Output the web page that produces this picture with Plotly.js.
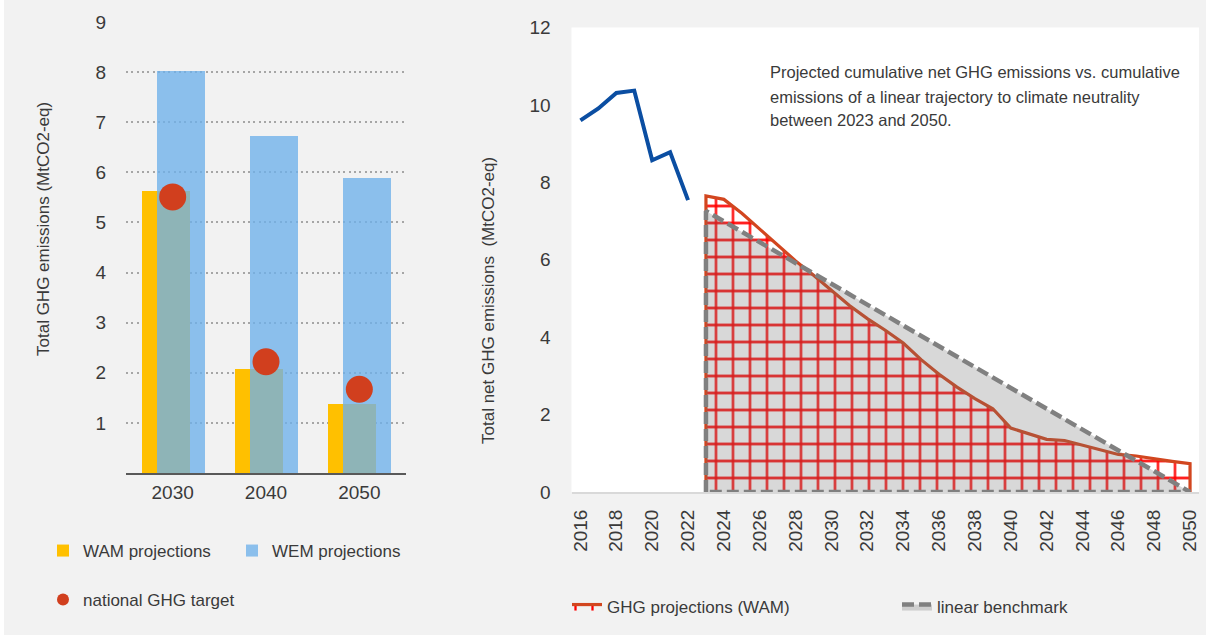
<!DOCTYPE html>
<html>
<head>
<meta charset="utf-8">
<script src="https://cdn.plot.ly/plotly-3.0.1.min.js"></script>
<style>
  html, body { margin: 0; padding: 0; background: #f2f2f2; }
  #chart { width: 1206px; height: 635px; }
</style>
</head>
<body>
<div id="chart"></div>
<script>
// ---- Left chart data ----
const barCategories = ['2030', '2040', '2050'];
const wamValues = [5.63, 2.07, 1.38];
const wemValues = [8.03, 6.72, 5.89];
const targetValues = [5.51, 2.22, 1.67];
const leftTicks = [1, 2, 3, 4, 5, 6, 7, 8, 9];

// ---- Right chart data ----
const histYears = [2016, 2017, 2018, 2019, 2020, 2021, 2022];
const histValues = [9.60, 9.91, 10.31, 10.37, 8.57, 8.78, 7.54];
const projYears = [2023, 2024, 2025, 2026, 2027, 2028, 2029, 2030, 2031, 2032, 2033, 2034, 2035, 2036,
                   2037, 2038, 2039, 2040, 2041, 2042, 2043, 2044, 2045, 2046, 2047, 2048, 2049, 2050];
const projValues = [7.65, 7.56, 7.20, 6.79, 6.38, 5.97, 5.60, 5.22, 4.82, 4.48, 4.18, 3.85, 3.42, 3.04,
                    2.71, 2.41, 2.15, 1.65, 1.50, 1.36, 1.33, 1.21, 1.08, 0.97, 0.93, 0.85, 0.79, 0.73];
const benchYears = [2023, 2050];
const benchValues = [7.26, 0];

// ---- Texts ----
const leftYTitle = 'Total GHG emissions (MtCO2-eq)';
const rightYTitle = 'Total net GHG emissions&nbsp; (MtCO2-eq)';
const noteLines = [
  'Projected cumulative net GHG emissions vs. cumulative',
  'emissions of a linear trajectory to climate neutrality',
  'between 2023 and 2050.'
];

const FONT = "'Liberation Sans', Arial, sans-serif";
const TXT = '#3a3a3a';
const W = 1206, H = 635;
const px = v => v / W;
const py = v => (H - v) / H;

// closed outlines built from the data arrays
const projX = [projYears[0]].concat(projYears, [projYears[projYears.length - 1]]);
const projY = [0].concat(projValues, [0]);
const benchX = [benchYears[0], benchYears[0], benchYears[1], benchYears[0]];
const benchY = [0, benchValues[0], benchValues[1], 0];

const traces = [
  { type: 'bar', name: 'WAM projections', x: barCategories, y: wamValues,
    xaxis: 'x', yaxis: 'y', offset: -0.333, width: 0.516,
    marker: { color: '#ffc000', line: { width: 0 } }, legend: 'legend', hoverinfo: 'skip' },
  { type: 'bar', name: 'WEM projections', x: barCategories, y: wemValues,
    xaxis: 'x', yaxis: 'y', offset: -0.172, width: 0.516,
    marker: { color: 'rgba(110,177,234,0.78)', line: { width: 0 } }, legend: 'legend', hoverinfo: 'skip' },
  { type: 'scatter', mode: 'markers', name: 'national GHG target', x: barCategories, y: targetValues,
    xaxis: 'x', yaxis: 'y', marker: { size: 27, color: '#d13f1e' }, legend: 'legend2', hoverinfo: 'skip' },

  { type: 'scatter', mode: 'lines', name: 'historical', x: histYears, y: histValues,
    xaxis: 'x2', yaxis: 'y2', line: { color: '#0b4ea2', width: 4 }, showlegend: false, hoverinfo: 'skip' },
  { type: 'scatter', mode: 'lines', name: 'GHG projections (WAM)', x: projX, y: projY,
    xaxis: 'x2', yaxis: 'y2', fill: 'toself', fillcolor: 'rgba(0,0,0,0)',
    fillpattern: { shape: '+', fgcolor: '#ff0000', fgopacity: 1, bgcolor: 'rgba(0,0,0,0)',
                   size: 17, solidity: 0.25, fillmode: 'overlay' },
    line: { color: '#d2461f', width: 3.2 }, legend: 'legend3', hoverinfo: 'skip' },
  { type: 'scatter', mode: 'lines', name: 'linear benchmark', x: benchX, y: benchY,
    xaxis: 'x2', yaxis: 'y2', fill: 'toself', fillcolor: 'rgba(112,112,112,0.27)',
    line: { color: '#808080', width: 4.5, dash: '12px,5px' }, legend: 'legend3', hoverinfo: 'skip' }
];

const legendBase = {
  orientation: 'h', xanchor: 'left', yanchor: 'middle', bgcolor: 'rgba(0,0,0,0)',
  font: { family: FONT, size: 17, color: TXT }, itemclick: false, itemdoubleclick: false
};

const annotations = [
  { xref: 'paper', yref: 'paper', x: px(43), y: py(229), xanchor: 'center', yanchor: 'middle',
    textangle: -90, showarrow: false, font: { family: FONT, size: 17, color: TXT }, text: leftYTitle },
  { xref: 'paper', yref: 'paper', x: px(488), y: py(301), xanchor: 'center', yanchor: 'middle',
    textangle: -90, showarrow: false, font: { family: FONT, size: 17, color: TXT }, text: rightYTitle }
];
const noteY = [72, 96.5, 120];
noteLines.forEach((t, i) => annotations.push({
  xref: 'paper', yref: 'paper', x: px(768), y: py(noteY[i]), xanchor: 'left', yanchor: 'middle',
  align: 'left', showarrow: false, font: { family: FONT, size: 16.5, color: TXT }, text: t
}));

const layout = {
  width: W, height: H,
  margin: { l: 0, r: 0, t: 0, b: 0, autoexpand: false },
  paper_bgcolor: '#f2f2f2',
  plot_bgcolor: 'rgba(0,0,0,0)',
  font: { family: FONT, size: 17, color: TXT },
  bargap: 0, barmode: 'overlay',
  showlegend: true,
  xaxis: {
    domain: [px(126), px(406)], anchor: 'y', type: 'category',
    showline: true, linecolor: '#595959', linewidth: 2,
    ticks: 'outside', ticklen: 1, tickcolor: 'rgba(0,0,0,0)',
    tickfont: { family: FONT, size: 19, color: TXT }, showgrid: false, fixedrange: true
  },
  yaxis: {
    domain: [py(473), py(22)], anchor: 'x', range: [0, 9],
    tickvals: leftTicks, ticktext: leftTicks.map(String),
    showgrid: true, gridcolor: '#a6a6a6', gridwidth: 2, griddash: '2px,3.3px',
    zeroline: false, showline: false,
    ticks: 'outside', ticklen: 15, tickcolor: 'rgba(0,0,0,0)',
    tickfont: { family: FONT, size: 19, color: TXT },
    fixedrange: true
  },
  xaxis2: {
    domain: [px(571.5), px(1199)], anchor: 'y2', range: [2015.5, 2050.5],
    tick0: 2016, dtick: 2, tickangle: -90,
    showline: true, linecolor: '#d9d9d9', linewidth: 2, showgrid: false, zeroline: false,
    ticks: 'outside', ticklen: 8, tickcolor: 'rgba(0,0,0,0)',
    tickfont: { family: FONT, size: 19, color: TXT }, fixedrange: true
  },
  yaxis2: {
    domain: [py(492), py(27.5)], anchor: 'x2', range: [0, 12], dtick: 2,
    showgrid: false, zeroline: false, showline: false,
    ticks: 'outside', ticklen: 16, tickcolor: 'rgba(0,0,0,0)',
    tickfont: { family: FONT, size: 19, color: TXT },
    fixedrange: true
  },
  legend: Object.assign({}, legendBase, { x: px(43), y: py(551), entrywidth: 144 }),
  legend2: Object.assign({}, legendBase, { x: px(43), y: py(600), itemsizing: 'constant' }),
  legend3: Object.assign({}, legendBase, { x: px(567), y: py(607), entrywidth: 285 }),
  shapes: [
    { type: 'rect', xref: 'paper', yref: 'paper', x0: 0, x1: px(4), y0: 0, y1: 1,
      fillcolor: '#ffffff', line: { width: 0 }, layer: 'below' },
    { type: 'rect', xref: 'x2 domain', yref: 'y2 domain', x0: 0, x1: 1, y0: 0, y1: 1,
      fillcolor: '#ffffff', line: { width: 0 }, layer: 'below' }
  ],
  annotations: annotations
};

Plotly.newPlot('chart', traces, layout, { displayModeBar: false, staticPlot: true });
</script>
</body>
</html>
